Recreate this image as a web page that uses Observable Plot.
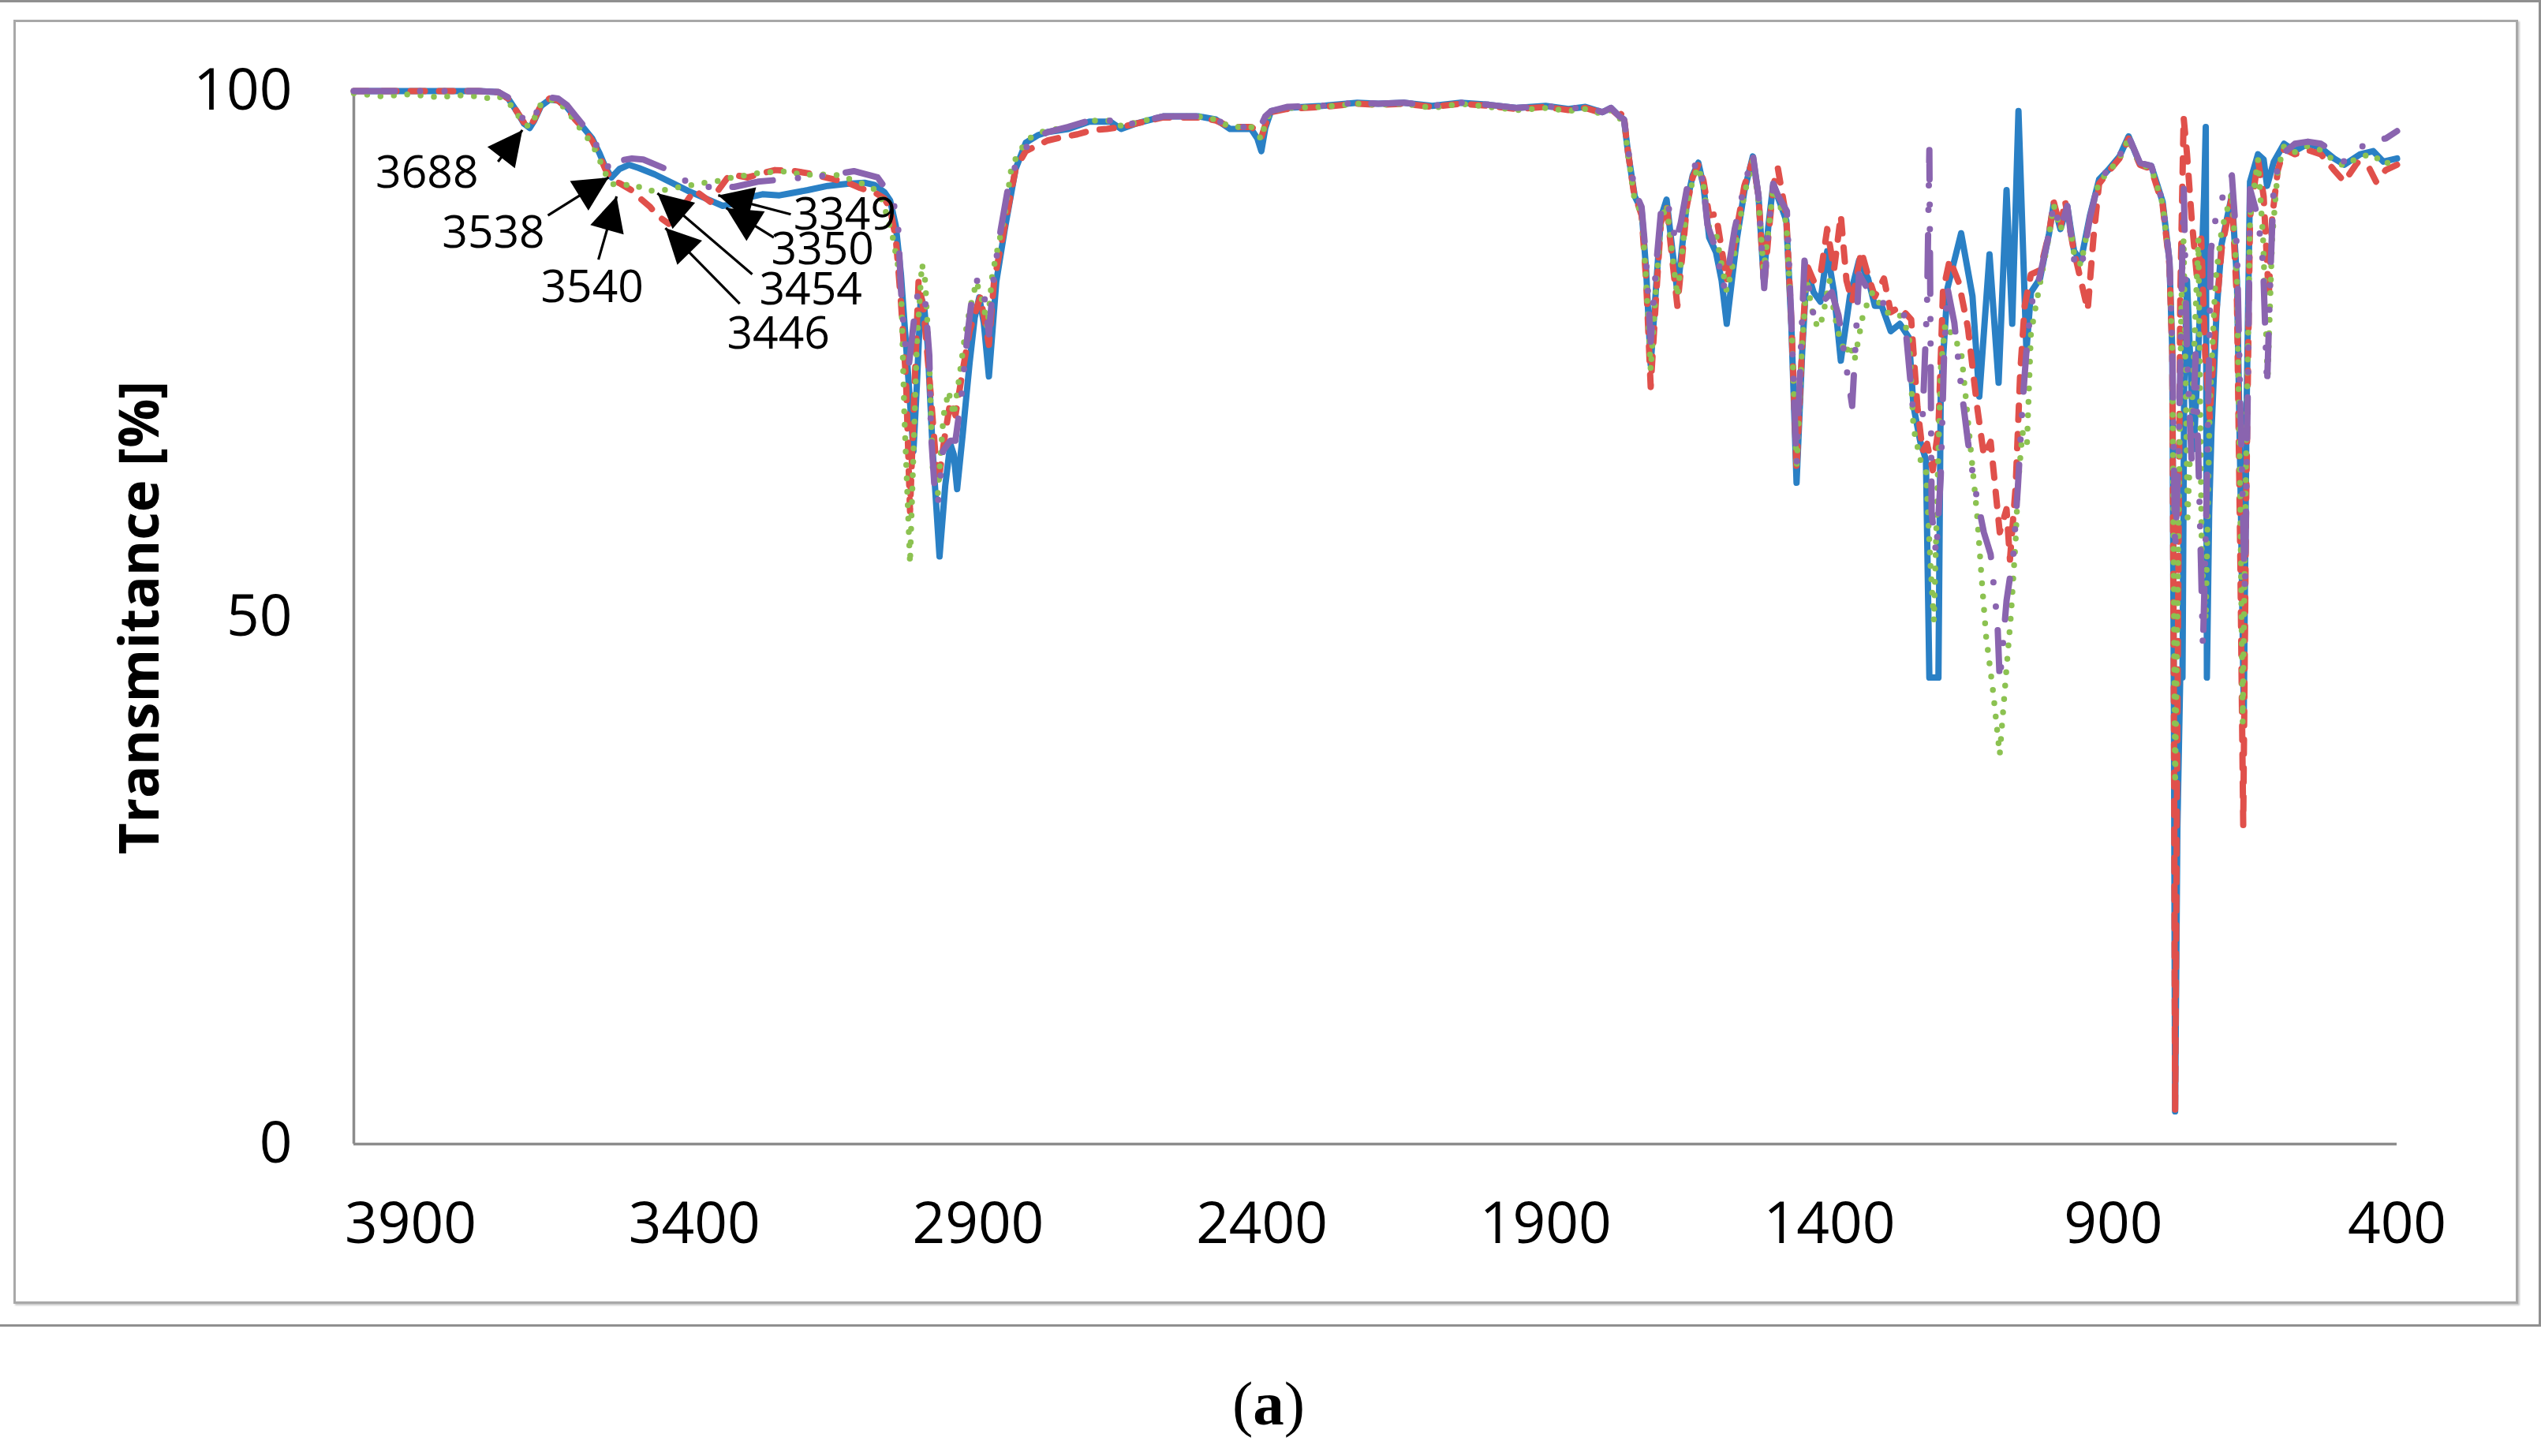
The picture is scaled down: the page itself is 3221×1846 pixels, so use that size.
<!DOCTYPE html>
<html><head><meta charset="utf-8">
<script src="https://cdn.jsdelivr.net/npm/d3@7"></script>
<script src="https://cdn.jsdelivr.net/npm/@observablehq/plot@0.6"></script>
<style>
html,body{margin:0;padding:0;background:#fff;}
#page{position:relative;width:3221px;height:1846px;overflow:hidden;background:#fff;}
#chart{position:absolute;left:0;top:0;}
.frame{position:absolute;box-sizing:border-box;pointer-events:none;}
#outer{left:-4px;top:0;width:3225px;height:1682px;border:3px solid #8f8f8f;}
#inner{left:17px;top:25px;width:3175px;height:1628px;border:3px solid #a8a8a8;box-shadow:2px 2px 2px rgba(0,0,0,0.22);}
#caption{position:absolute;left:0;width:3216px;top:1740px;text-align:center;font-family:"Liberation Serif","Times New Roman",serif;font-size:79px;line-height:1;color:#000;}
</style></head>
<body><div id="page"><div id="chart"></div><div id="outer" class="frame"></div><div id="inner" class="frame"></div><div id="caption">(<b>a</b>)</div></div>
<script>
// ---- axis ticks ----
const xTicks = [3900, 3400, 2900, 2400, 1900, 1400, 900, 400];
const yTicks = [0, 50, 100];
const yTitle = "Transmitance [%]";

// ---- series: [wavenumber, transmittance] ----
const blue = [[4000,100],[3780,100],[3745,99.9],[3728,99.3],[3712,98],[3700,96.9],[3690,96.5],[3682,97.2],[3670,98.6],[3655,99.2],[3640,99.1],[3625,98.5],[3610,97.5],[3595,96.5],[3580,95.5],[3568,94.2],[3557,92.8],[3546,91.8],[3532,92.6],[3515,93.0],[3498,92.7],[3470,92.1],[3440,91.3],[3410,90.5],[3380,89.8],[3350,89.1],[3330,89.3],[3305,89.9],[3280,90.2],[3250,90.1],[3230,90.3],[3200,90.6],[3165,91.0],[3130,91.2],[3100,91.3],[3083,91.1],[3065,90.4],[3055,89.6],[3045,87.2],[3036,82.6],[3027,75.9],[3014,65.8],[3008,72],[3001,80.5],[2995,79.5],[2989,75.9],[2980,65.8],[2968,55.8],[2958,62.5],[2949,66.5],[2943,65.5],[2937,62.2],[2927,67.5],[2915,74.2],[2906,78.5],[2898,80.4],[2890,78],[2881,72.9],[2868,81.9],[2853,86.9],[2834,92.6],[2816,95.1],[2795,95.8],[2778,96.1],[2741,96.4],[2704,97.1],[2667,97.1],[2648,96.4],[2623,96.9],[2574,97.6],[2512,97.6],[2481,97.3],[2456,96.4],[2419,96.4],[2408,95.5],[2401,94.3],[2394,96.5],[2384,98.1],[2356,98.4],[2294,98.6],[2232,98.9],[2195,98.8],[2150,98.9],[2100,98.6],[2050,98.9],[2000,98.7],[1950,98.4],[1900,98.6],[1860,98.3],[1830,98.5],[1800,98.0],[1785,98.4],[1770,97.6],[1762,97.3],[1755,94.2],[1743,90.0],[1731,88.7],[1723,83],[1715,74.0],[1706,81],[1697,88],[1687,89.7],[1677,85],[1668,80.9],[1660,85],[1651,89.5],[1641,92],[1631,93.2],[1622,91.0],[1612,86.1],[1600,84.7],[1590,82],[1581,77.9],[1572,82],[1563,86],[1550,90.5],[1535,93.8],[1525,90],[1516,82.2],[1508,87],[1499,91.2],[1490,89.8],[1476,87.7],[1467,77.5],[1458,62.8],[1448,75.3],[1440,83.0],[1428,80.9],[1416,80.0],[1404,84.8],[1392,80.9],[1380,74.4],[1364,80.5],[1348,83.9],[1332,82.2],[1320,79.6],[1308,79.6],[1292,77.2],[1276,77.9],[1260,76.6],[1252,70.1],[1240,66.7],[1230,65],[1224,44.3],[1208,44.3],[1204,71],[1192,81.3],[1168,86.5],[1148,80.5],[1136,71],[1118,84.5],[1102,72.3],[1088,90.6],[1078,77.9],[1067,98.1],[1062,90],[1053,75.3],[1045,80.9],[1029,82.2],[1013,86.5],[1005,89.3],[993,86.9],[981,89.1],[969,84.8],[957,83.9],[941,88.2],[925,91.6],[909,92.5],[889,93.8],[873,95.7],[853,93.1],[833,92.9],[813,89.5],[801,83.9],[796,75.3],[793,40],[791,3.1],[787,30],[782,44.3],[778,44.3],[775,72],[770,82],[758,66],[748,78],[740,90],[737,96.6],[735,44.3],[731,60],[727,67.6],[718,79],[709,85.5],[691,90.1],[682,82],[675,60],[670,41],[665,70],[659,91.4],[645,94],[635,93.5],[629,91],[617,93.3],[599,95],[580,94.3],[557,95],[534,94.6],[511,93.6],[493,93],[465,94],[442,94.3],[424,93.3],[400,93.6]];

const red = [[4000,100],[3780,100],[3745,99.9],[3728,99.3],[3712,98],[3700,97],[3690,96.6],[3682,97.3],[3670,98.7],[3655,99.3],[3640,99.1],[3625,98.4],[3610,97.3],[3595,96.4],[3580,95.3],[3568,94],[3557,92.6],[3546,91.6],[3530,91.2],[3511,90.6],[3493,89.7],[3478,89],[3466,88.2],[3445,87.4],[3425,88.6],[3400,90.6],[3372,89.5],[3355,90.8],[3337,92.1],[3306,91.8],[3280,92.2],[3258,92.5],[3223,92.4],[3200,92.2],[3177,91.9],[3145,91.5],[3125,91.2],[3108,90.8],[3080,90.3],[3065,89.8],[3055,88.8],[3045,86],[3036,80],[3027,72.5],[3020,60.1],[3012,72],[3005,81.9],[2996,79.2],[2983,70.9],[2971,62.5],[2958,67.5],[2949,70.5],[2940,69.2],[2927,73.5],[2915,77.2],[2896,80.5],[2881,75.9],[2872,81.9],[2853,87.2],[2834,92.6],[2816,94.3],[2778,95.3],[2754,95.6],[2725,95.9],[2698,96.3],[2673,96.4],[2648,96.6],[2623,96.9],[2574,97.5],[2512,97.5],[2481,97.2],[2456,96.6],[2419,96.6],[2408,96.2],[2401,95.6],[2394,96.8],[2384,98],[2356,98.3],[2294,98.5],[2232,98.8],[2195,98.7],[2150,98.8],[2100,98.5],[2050,98.8],[2000,98.6],[1950,98.3],[1900,98.5],[1860,98.2],[1830,98.4],[1800,97.9],[1785,98.3],[1770,97.6],[1763,98.1],[1757,95],[1745,90.5],[1731,88.2],[1723,82],[1715,71.9],[1706,80],[1697,87.5],[1687,89.2],[1677,84],[1668,79.6],[1660,84],[1651,89.2],[1641,91.8],[1631,93.0],[1622,91.5],[1612,88.2],[1600,88.3],[1590,85],[1581,82],[1572,84],[1563,87],[1550,91],[1535,93.5],[1525,90],[1515,81.5],[1508,86],[1499,91],[1491,92.7],[1476,88],[1467,78],[1458,64],[1448,76],[1440,83.5],[1428,82],[1416,82.5],[1404,86.9],[1392,83],[1380,88.2],[1370,82],[1360,80],[1344,84.8],[1332,82.5],[1320,80.5],[1304,82.2],[1292,79],[1276,79.5],[1256,78.3],[1245,70],[1236,65.8],[1228,66.5],[1218,64],[1208,68],[1200,81],[1188,84],[1172,81.8],[1156,77.5],[1140,70.1],[1128,65.4],[1116,66.7],[1100,58.1],[1088,60.3],[1082,55.5],[1072,62.4],[1064,73.2],[1056,79.6],[1045,82.6],[1029,83],[1013,86.5],[1005,89.5],[993,87],[985,89.6],[970,85],[957,82],[945,79.2],[935,86],[925,91.2],[909,92.3],[889,93.6],[873,95.5],[853,93],[833,92.6],[813,89.2],[801,83.5],[796,75],[793,40],[791,3.1],[787,40],[782,80],[776,97.5],[770,94],[762,88],[752,82],[745,86],[738,75],[730,69],[720,78],[709,85],[691,90],[682,80],[676,55],[671,30.3],[666,60],[659,88],[645,93.5],[635,90],[626,80.5],[620,88],[610,92.5],[599,94.5],[580,94],[557,94.4],[534,94],[511,92.5],[493,91.4],[470,93.2],[450,92.8],[437,91.4],[420,92.5],[400,93]];

const green = [[4000,99.8],[3950,99.5],[3900,99.7],[3850,99.4],[3820,99.6],[3780,99.5],[3760,99.3],[3745,99.5],[3728,99.0],[3712,97.8],[3700,96.9],[3690,96.6],[3682,97.4],[3670,98.8],[3655,99.2],[3640,99.0],[3625,98.2],[3610,97.1],[3595,96],[3580,95],[3568,93.6],[3557,92.2],[3546,91.2],[3530,91.0],[3508,91.2],[3487,90.6],[3465,90.5],[3441,90.7],[3418,91.0],[3397,91.1],[3374,91.4],[3352,91.5],[3327,91.9],[3305,92.0],[3281,92.3],[3258,92.3],[3233,92.4],[3210,92.0],[3187,92.1],[3140,92.0],[3117,91.4],[3094,91.1],[3076,90.4],[3066,89.2],[3050,86],[3036,81.9],[3030,69.2],[3020,55.1],[3008,75.9],[2999,83.6],[2993,81.9],[2986,74.2],[2980,64.2],[2971,61.8],[2961,69.2],[2952,71.5],[2943,69.2],[2934,72.5],[2924,76.5],[2915,79.2],[2903,81.9],[2890,79.6],[2884,77.5],[2875,82.6],[2865,85.2],[2853,88.2],[2841,92.9],[2825,94.4],[2813,95.4],[2791,96.1],[2741,96.6],[2704,97.2],[2667,97.2],[2648,96.7],[2623,97],[2574,97.6],[2512,97.6],[2481,97.3],[2456,96.6],[2419,96.6],[2408,96],[2401,95.4],[2394,97],[2384,98.1],[2356,98.4],[2294,98.5],[2232,98.8],[2195,98.7],[2150,98.8],[2100,98.4],[2050,98.8],[2000,98.5],[1950,98.2],[1900,98.4],[1860,98.1],[1830,98.3],[1800,97.8],[1785,98.2],[1770,97.4],[1762,97.2],[1755,94],[1743,89.5],[1731,88.5],[1723,82],[1715,73.5],[1706,81],[1697,87.5],[1687,89.3],[1677,84.5],[1668,80.5],[1660,84.5],[1651,89.2],[1641,91.5],[1631,92.8],[1622,91],[1612,87],[1600,86.5],[1590,83.5],[1581,81],[1572,83],[1563,86],[1550,90.2],[1535,93.4],[1525,89.5],[1516,83],[1508,86.5],[1499,90.8],[1490,89.5],[1476,87.5],[1467,78],[1458,64.1],[1448,76],[1440,82],[1428,78.5],[1420,77.5],[1412,78.5],[1400,82],[1392,79],[1384,77],[1372,75],[1364,76],[1356,74.4],[1340,79],[1324,80.9],[1308,79.5],[1292,78.7],[1276,78.7],[1260,77],[1252,68],[1240,65],[1230,64],[1222,55],[1216,49.7],[1210,62],[1204,73.6],[1196,77.9],[1180,76.5],[1168,75.3],[1160,71],[1154,67.6],[1140,59.8],[1132,53.8],[1124,48.2],[1112,43.1],[1100,37],[1088,45.2],[1080,50.4],[1072,57.3],[1068,62.4],[1060,67.6],[1052,66.5],[1045,77],[1035,80],[1013,86.3],[1005,89.2],[993,86.8],[981,89],[969,84.5],[957,83.5],[941,88],[925,91.4],[909,92.3],[889,93.6],[873,95.5],[853,93],[833,92.7],[813,89.3],[801,83.7],[796,75],[793,50],[791,34.2],[787,50],[780,80],[776,86],[769,59.5],[760,72],[750,86],[744,55.6],[737,49.8],[730,70],[720,82],[709,86.8],[691,90.4],[682,82],[676,60],[672,40],[666,65],[659,88],[645,93.5],[636,86],[628,72.5],[620,86],[610,92.5],[599,94.8],[580,94.2],[557,94.8],[534,94.4],[511,93.4],[493,92.9],[465,93.8],[442,94],[424,93],[400,93.6]];

const purple = [[4000,100],[3780,100],[3745,99.9],[3728,99.4],[3712,98.2],[3700,97.2],[3690,96.8],[3682,97.5],[3670,98.9],[3655,99.4],[3640,99.3],[3625,98.7],[3610,97.7],[3595,96.7],[3580,95.6],[3568,94.4],[3557,93.2],[3546,92.4],[3531,93.4],[3510,93.6],[3490,93.5],[3450,92.6],[3416,91.5],[3376,90.9],[3330,90.9],[3288,91.4],[3205,91.8],[3163,92.0],[3119,92.4],[3077,91.8],[3060,90.5],[3042,88.4],[3036,81.2],[3030,76.5],[3022,74],[3011,79.2],[3005,81.2],[2993,79.9],[2986,74.9],[2983,67.5],[2977,62.5],[2971,60.8],[2962,65.8],[2949,66.8],[2940,66.8],[2930,70.8],[2918,77.2],[2909,81.2],[2900,82.2],[2890,80.9],[2881,76.9],[2872,82.6],[2860,86.9],[2847,90.9],[2828,93.9],[2803,95.4],[2778,96.1],[2741,96.6],[2704,97.2],[2667,97.2],[2648,96.6],[2623,97],[2574,97.6],[2512,97.6],[2481,97.3],[2456,96.6],[2419,96.6],[2408,96.4],[2401,96.8],[2394,97.6],[2384,98.1],[2356,98.5],[2294,98.6],[2232,98.9],[2195,98.8],[2150,98.9],[2100,98.6],[2050,98.9],[2000,98.7],[1950,98.4],[1900,98.6],[1860,98.3],[1830,98.5],[1800,98.0],[1785,98.4],[1770,97.6],[1762,97.3],[1755,94.5],[1743,90.5],[1731,89],[1723,84],[1715,76.2],[1706,83],[1697,88.5],[1687,89.7],[1677,87.5],[1671,85.6],[1662,87.5],[1651,90.8],[1641,92.6],[1631,93.4],[1622,91],[1615,87.3],[1599,84.8],[1587,81.3],[1577,83.5],[1567,86.9],[1550,91],[1535,94],[1525,90],[1515,81.3],[1508,86.5],[1499,91.2],[1490,90],[1475,88.6],[1467,78],[1458,64.5],[1450,76],[1444,83.9],[1428,78.7],[1412,80],[1396,80.9],[1384,78.7],[1372,74.4],[1360,70.1],[1354,76],[1348,82.6],[1336,81.5],[1324,80.5],[1308,80],[1292,79.2],[1268,78.7],[1252,69.3],[1236,68.9],[1228,80],[1224,94.4],[1220,60],[1212,56],[1204,63.3],[1198,75],[1192,81.3],[1180,78],[1168,71.9],[1156,66.7],[1144,62.4],[1128,58.1],[1116,56],[1104,49.5],[1100,43.9],[1088,51.6],[1076,56],[1068,62.4],[1060,70.1],[1053,75.3],[1045,79.6],[1029,82.5],[1013,86.5],[1005,89.3],[993,86.9],[981,89.1],[969,84],[957,83],[941,88],[925,91.6],[909,92.5],[889,93.8],[873,95.7],[853,93.2],[833,92.9],[813,89.5],[801,83.9],[796,76],[791,56.3],[785,65],[776,91.4],[770,75],[762,65],[755,75],[748,61],[742,47.2],[736,60],[728,84.9],[719,88.1],[709,89.7],[691,92],[682,85],[676,70],[668,52.4],[662,75],[659,90.7],[645,88],[636,83.6],[629,72],[622,84.2],[617,91.4],[602,94],[580,95],[557,95.2],[534,95],[511,94.2],[493,93.3],[470,94.5],[442,95.3],[420,95.5],[400,96.2]];

// ---- annotations ----
const annoText = ["3688", "3538", "3540", "3454", "3446", "3350", "3349"];
const annoLabelWn = [3871, 3754, 3580, 3195, 3252, 3174, 3135];
const annoLabelT = [92.2, 86.5, 81.3, 81.1, 76.9, 84.9, 88.2];
const annoTailWn = [3746, 3658, 3569, 3298, 3320, 3260, 3230];
const annoTailT = [93.3, 88.2, 84.0, 82.6, 79.8, 86.1, 88.3];
const annoTipWn = [3703, 3551, 3537, 3465, 3451, 3344, 3358];
const annoTipT = [96.3, 91.8, 90.0, 90.3, 87.0, 88.9, 90.1];

// ---- layout ----
const W = 3221, H = 1680;
const mL = 448, mR = 183, mT = 115, mB = 230;
const xDomain = [4000, 400], yDomain = [0, 100];

const sx = Plot.scale({x: {domain: xDomain, range: [mL, W - mR]}});
const sy = Plot.scale({y: {domain: yDomain, range: [H - mB, mT]}});

const annos = annoText.map((t, i) => {
  const dx = sx.apply(annoTipWn[i]) - sx.apply(annoTailWn[i]);
  const dy = sy.apply(annoTipT[i]) - sy.apply(annoTailT[i]);
  return {text: t, lx: annoLabelWn[i], ly: annoLabelT[i], x1: annoTailWn[i], y1: annoTailT[i],
          x2: annoTipWn[i], y2: annoTipT[i], angle: Math.atan2(dx, -dy) * 180 / Math.PI};
});

const lineOpts = {x: d => d[0], y: d => d[1], strokeLinejoin: "round", strokeLinecap: "round"};

const plot = Plot.plot({
  width: W, height: H,
  marginLeft: mL, marginRight: mR, marginTop: mT, marginBottom: mB,
  x: {domain: xDomain},
  y: {domain: yDomain},
  style: {fontFamily: "'Open Sans', 'Liberation Sans', sans-serif", color: "#000", background: "transparent", overflow: "visible"},
  marks: [
    Plot.ruleX([xDomain[0]], {y1: 0, y2: 100, stroke: "#8c8c8c", strokeWidth: 3.5}),
    Plot.ruleY([0], {x1: xDomain[0], x2: xDomain[1], stroke: "#8c8c8c", strokeWidth: 3.5}),
    Plot.axisX({ticks: xTicks, tickSize: 0, tickPadding: 74, fontSize: 73, tickFormat: d => `${d}`, label: null}),
    Plot.axisY({ticks: yTicks, tickSize: 0, tickPadding: 78, fontSize: 73, tickFormat: d => `${d}`, label: null}),
    Plot.text([yTitle], {frameAnchor: "left", dx: -270, rotate: -90, fontSize: 69, fontWeight: "bold", textAnchor: "middle"}),
    Plot.line(blue, {...lineOpts, stroke: "#2A80C5", strokeWidth: 8}),
    Plot.line(red, {...lineOpts, stroke: "#E0504B", strokeWidth: 8, strokeDasharray: "18,18"}),
    Plot.line(green, {...lineOpts, stroke: "#8CC251", strokeWidth: 7.5, strokeDasharray: "0,17"}),
    Plot.line(purple, {...lineOpts, stroke: "#8A64AF", strokeWidth: 8, strokeDasharray: "52,32,0,31,0,30"}),
    Plot.link(annos, {x1: "x1", y1: "y1", x2: "x2", y2: "y2", stroke: "#000", strokeWidth: 3.2}),
    Plot.vector(annos, {x: "x2", y: "y2", rotate: "angle", length: 44, r: 22, shape: "spike", anchor: "end", fill: "#000", stroke: "none"}),
    Plot.text(annos, {x: "lx", y: "ly", text: "text", fontSize: 57, textAnchor: "middle", lineAnchor: "middle", fill: "#000"})
  ]
});
document.getElementById("chart").appendChild(plot);
</script></body></html>
